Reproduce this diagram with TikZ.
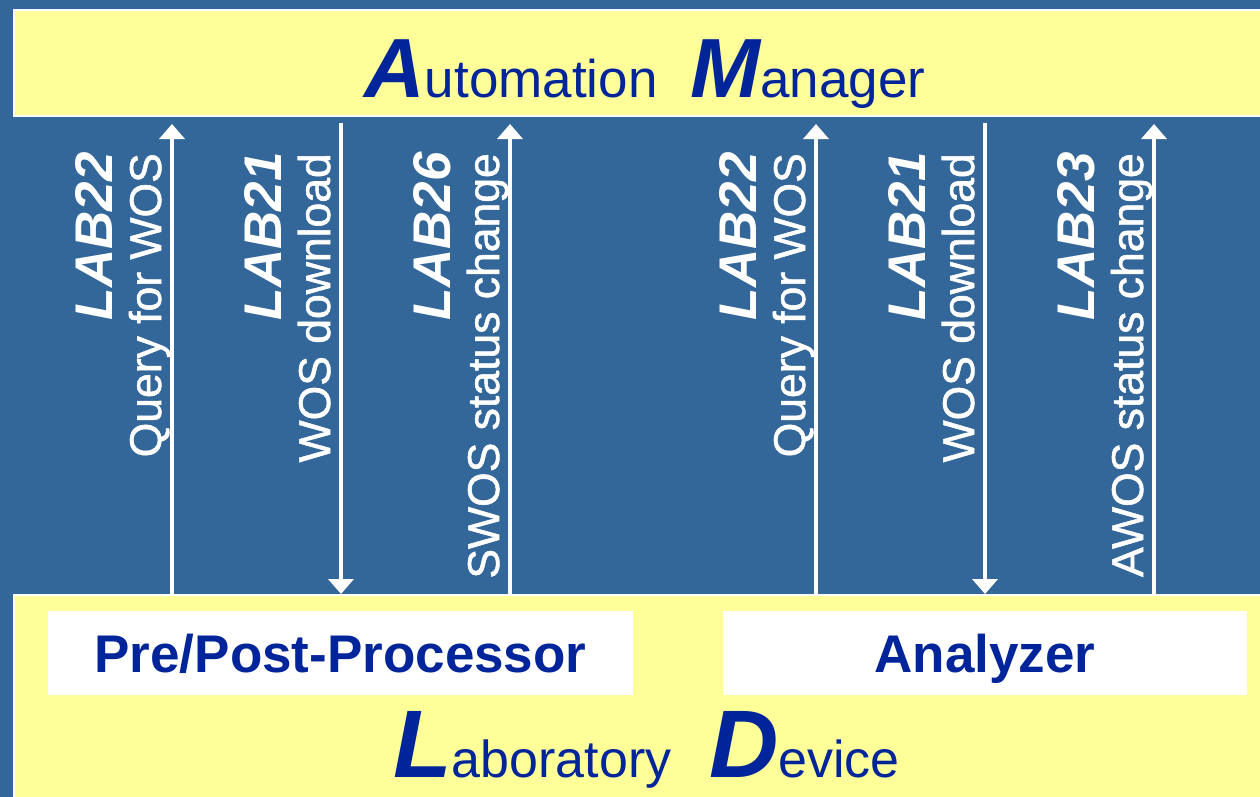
\documentclass[tikz,border=0pt]{standalone}
\usepackage{fontspec}
\setmainfont{Liberation Sans}
\newfontfamily\descfont[FakeBold=1.2]{Liberation Sans}
\usetikzlibrary{arrows.meta}
\definecolor{bgblue}{RGB}{51,102,153}
\definecolor{bandyellow}{RGB}{255,255,153}
\definecolor{txtblue}{RGB}{0,36,153}
\newcommand{\fsz}[1]{\fontsize{#1}{#1}\selectfont}
\begin{document}
\begin{tikzpicture}[x=1pt,y=-1pt,
  band/.style={draw=white, line width=2pt, fill=bandyellow, inner sep=0pt, outer sep=0pt, anchor=north west},
  devbox/.style={fill=white, inner sep=0pt, minimum height=84pt, text height=38pt, text depth=0pt, text=txtblue, font=\fsz{53}\bfseries},
  title/.style={anchor=base west, inner sep=0pt, text=txtblue},
  msg/.style={draw=white, line width=4pt, -{Triangle[width=25pt,length=15pt]}},
  lab/.style={rotate=90, anchor=base east, inner sep=0pt, text=white, font=\fsz{53}\bfseries\itshape},
  desc/.style={rotate=90, anchor=base east, inner sep=0pt, text=white, font=\descfont\fsz{44.5}},
]
\fill[bgblue] (0,0) rectangle (1260,797);
\clip (0,0) rectangle (1260,797);

% bands
\node[band, minimum width=1250pt, minimum height=105.3pt] (am) at (13.5,10.5) {};
\node[band, minimum width=1250pt, minimum height=210pt] (ld) at (13.5,594.5) {};

% titles
\node[title] (amA) at (364,98) {{\fsz{84}\bfseries\itshape A}{\fsz{53}utomation}};
\node[title] (amM) at (690,98) {{\fsz{84}\bfseries\itshape M}{\fsz{53}anager}};
\node[title] (ldL) at (393,777) {{\fsz{96}\bfseries\itshape L}{\fsz{52}aboratory}};
\node[title] (ldD) at (709,777) {{\fsz{96}\bfseries\itshape D}{\fsz{52}evice}};

% device boxes
\node[devbox, minimum width=585pt] (pp) at (340.5,653) {Pre/Post-Processor};
\node[devbox, minimum width=524pt] (an) at (985,653) {Analyzer};

% arrow end points
\coordinate (a1s) at (172,594);  \coordinate (a1e) at (172,124);
\coordinate (a2s) at (341,123);  \coordinate (a2e) at (341,594);
\coordinate (a3s) at (510,594);  \coordinate (a3e) at (510,124);
\coordinate (a4s) at (816,594);  \coordinate (a4e) at (816,124);
\coordinate (a5s) at (985,123);  \coordinate (a5e) at (985,594);
\coordinate (a6s) at (1154,594); \coordinate (a6e) at (1154,124);

\draw[msg] (a1s) -- (a1e);
\draw[msg] (a2s) -- (a2e);
\draw[msg] (a3s) -- (a3e);
\draw[msg] (a4s) -- (a4e);
\draw[msg] (a5s) -- (a5e);
\draw[msg] (a6s) -- (a6e);

% labels
\node[lab]  (l1) at (112,152)  {LAB22};
\node[desc] (d1) at (161,153)  {Query for WOS};
\node[lab]  (l2) at (281,152)  {LAB21};
\node[desc] (d2) at (330,153)  {WOS download};
\node[lab]  (l3) at (450,152)  {LAB26};
\node[desc] (d3) at (499,153)  {SWOS status change};
\node[lab]  (l4) at (756,152)  {LAB22};
\node[desc] (d4) at (805,153)  {Query for WOS};
\node[lab]  (l5) at (925,152)  {LAB21};
\node[desc] (d5) at (974,153)  {WOS download};
\node[lab]  (l6) at (1094,152) {LAB23};
\node[desc] (d6) at (1143,153) {AWOS status change};
\end{tikzpicture}
\end{document}
